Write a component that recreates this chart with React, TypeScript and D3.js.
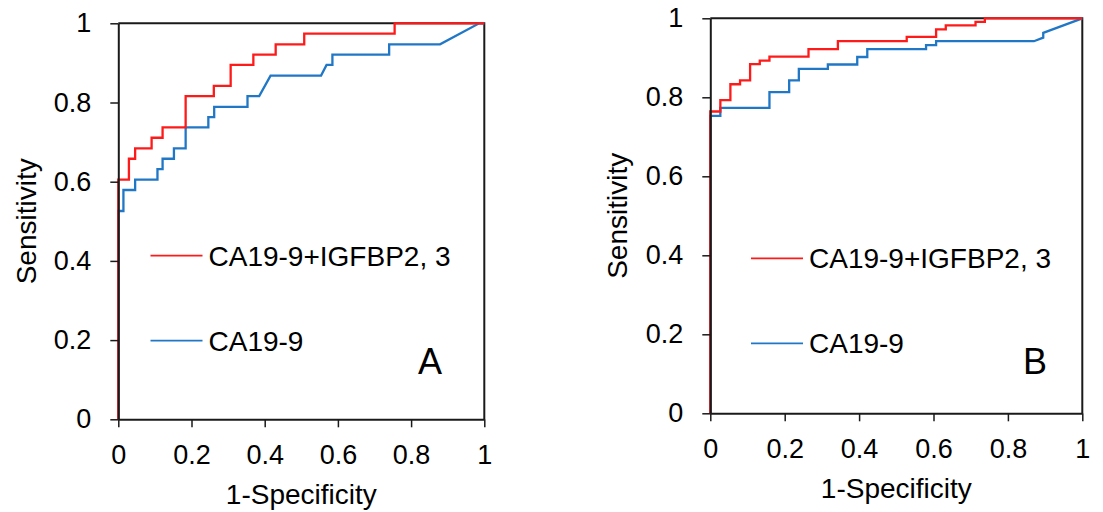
import React, { useEffect, useRef } from 'react';
import * as d3 from 'd3';

// ROC curve vertices (1-specificity, sensitivity)
const fprA_combo = [0, 0, 0.029, 0.029, 0.046, 0.046, 0.091, 0.091, 0.121, 0.121, 0.184, 0.184, 0.261, 0.261, 0.307, 0.307, 0.369, 0.369, 0.43, 0.43, 0.508, 0.508, 0.755, 0.755, 1];
const tprA_combo = [0, 0.605, 0.605, 0.658, 0.658, 0.684, 0.684, 0.711, 0.711, 0.737, 0.737, 0.816, 0.816, 0.842, 0.842, 0.895, 0.895, 0.921, 0.921, 0.947, 0.947, 0.974, 0.974, 1, 1];

const fprA_ca = [0, 0, 0.014, 0.014, 0.046, 0.046, 0.107, 0.107, 0.121, 0.121, 0.152, 0.152, 0.184, 0.184, 0.246, 0.246, 0.262, 0.262, 0.353, 0.353, 0.385, 0.416, 0.554, 0.569, 0.585, 0.585, 0.74, 0.74, 0.879, 0.986, 1];
const tprA_ca = [0, 0.526, 0.526, 0.579, 0.579, 0.605, 0.605, 0.632, 0.632, 0.658, 0.658, 0.684, 0.684, 0.737, 0.737, 0.763, 0.763, 0.789, 0.789, 0.816, 0.816, 0.868, 0.868, 0.895, 0.895, 0.921, 0.921, 0.947, 0.947, 1, 1];

const fprB_combo = [0, 0, 0.027, 0.027, 0.054, 0.054, 0.08, 0.08, 0.107, 0.107, 0.133, 0.133, 0.159, 0.159, 0.264, 0.264, 0.343, 0.343, 0.528, 0.528, 0.607, 0.607, 0.633, 0.633, 0.713, 0.713, 0.738, 0.738, 1];
const tprB_combo = [0, 0.764, 0.764, 0.793, 0.793, 0.833, 0.833, 0.843, 0.843, 0.884, 0.884, 0.893, 0.893, 0.903, 0.903, 0.922, 0.922, 0.942, 0.942, 0.953, 0.953, 0.972, 0.972, 0.982, 0.982, 0.991, 0.991, 1, 1];

const fprB_ca = [0, 0, 0.027, 0.027, 0.159, 0.159, 0.212, 0.212, 0.238, 0.238, 0.316, 0.316, 0.395, 0.395, 0.422, 0.422, 0.58, 0.58, 0.607, 0.607, 0.87, 0.895, 0.895, 1];
const tprB_ca = [0, 0.753, 0.753, 0.773, 0.773, 0.813, 0.813, 0.843, 0.843, 0.872, 0.872, 0.883, 0.883, 0.902, 0.902, 0.922, 0.922, 0.932, 0.932, 0.942, 0.942, 0.951, 0.963, 1];

const tickValues = [0, 0.2, 0.4, 0.6, 0.8, 1];
const tickLabels = ['0', '0.2', '0.4', '0.6', '0.8', '1'];
const seriesNames = ['CA19-9+IGFBP2, 3', 'CA19-9'];

const RED = '#ff1a1a';
const BLUE = '#2077c6';
const FONT = '"Liberation Sans", Arial, sans-serif';

const panels = [
  {
    letter: 'A', x0: 118.3, x1: 484.3, y0: 419.3, y1: 23.3,
    combo: [fprA_combo, tprA_combo], ca: [fprA_ca, tprA_ca],
    legendX: 150.5, legendY: [255.7, 340.7], letterX: 418, letterY: 374,
    ylabX: 36, xlabY: 504,
  },
  {
    letter: 'B', x0: 710.3, x1: 1082.3, y0: 413.3, y1: 18.3,
    combo: [fprB_combo, tprB_combo], ca: [fprB_ca, tprB_ca],
    legendX: 751, legendY: [258.3, 343.3], letterX: 1023, letterY: 374,
    ylabX: 627, xlabY: 498,
  },
];

export default function App() {
  const svgRef = useRef<SVGSVGElement>(null);

  useEffect(() => {
    const svg = d3.select(svgRef.current);
    svg.selectAll('*').remove();

    panels.forEach(p => {
      const x = d3.scaleLinear().domain([0, 1]).range([p.x0, p.x1]);
      const y = d3.scaleLinear().domain([0, 1]).range([p.y0, p.y1]);
      const g = svg.append('g');

      // frame top and right
      g.append('path')
        .attr('d', `M${x(0)},${y(1)}H${x(1)}V${y(0)}`)
        .attr('fill', 'none')
        .attr('stroke', '#1a1a1a')
        .attr('stroke-width', 2);

      const line = d3.line<[number, number]>().x(d => x(d[0])).y(d => y(d[1]));

      const draw = (xs: number[], ys: number[], color: string) => {
        const pts = xs.map((v, i) => [v, ys[i]] as [number, number]);
        g.append('path')
          .attr('d', line(pts))
          .attr('fill', 'none')
          .attr('stroke', color)
          .attr('stroke-width', 2.3);
      };
      draw(p.ca[0], p.ca[1], BLUE);
      draw(p.combo[0], p.combo[1], RED);

      const xAxis = d3.axisBottom(x)
        .tickValues(tickValues)
        .tickFormat((d, i) => tickLabels[i])
        .tickSize(8).tickSizeOuter(0).tickPadding(18);
      const yAxis = d3.axisLeft(y)
        .tickValues(tickValues)
        .tickFormat((d, i) => tickLabels[i])
        .tickSize(8).tickSizeOuter(0).tickPadding(19);

      [
        g.append('g').attr('transform', `translate(0,${y(0)})`).call(xAxis),
        g.append('g').attr('transform', `translate(${x(0)},0)`).call(yAxis),
      ].forEach(ax => {
        ax.select('.domain').attr('stroke', '#1a1a1a').attr('stroke-width', 2);
        ax.selectAll('.tick line').attr('stroke', '#1a1a1a').attr('stroke-width', 1.5);
        ax.selectAll('.tick text')
          .attr('fill', '#000')
          .style('font-family', FONT)
          .style('font-size', '27px');
      });

      // axis titles
      g.append('text')
        .attr('x', (p.x0 + p.x1) / 2)
        .attr('y', p.xlabY)
        .attr('text-anchor', 'middle')
        .style('font-family', FONT)
        .style('font-size', '28px')
        .text('1-Specificity');
      g.append('text')
        .attr('transform', `translate(${p.ylabX},${(p.y0 + p.y1) / 2}) rotate(-90)`)
        .attr('text-anchor', 'middle')
        .style('font-family', FONT)
        .style('font-size', '28px')
        .text('Sensitivity');

      // legend
      [RED, BLUE].forEach((c, i) => {
        g.append('line')
          .attr('x1', p.legendX).attr('x2', p.legendX + 52)
          .attr('y1', p.legendY[i]).attr('y2', p.legendY[i])
          .attr('stroke', c).attr('stroke-width', 1.8);
        g.append('text')
          .attr('x', p.legendX + 58)
          .attr('y', p.legendY[i] + 10)
          .style('font-family', FONT)
          .style('font-size', '28px')
          .text(seriesNames[i]);
      });

      g.append('text')
        .attr('x', p.letterX)
        .attr('y', p.letterY)
        .style('font-family', FONT)
        .style('font-size', '36px')
        .text(p.letter);
    });
  }, []);

  return (
    <div style={{ position: 'absolute', left: 0, top: 0 }}>
      <svg ref={svgRef} width={1103} height={512} style={{ display: 'block', background: '#fff' }} />
    </div>
  );
}
